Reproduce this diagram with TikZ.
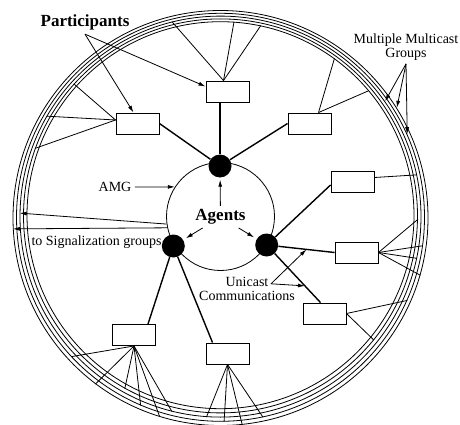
\documentclass[tikz,border=0pt]{standalone}
\usepackage{fontspec}
\setmainfont{Liberation Serif}
\usetikzlibrary{arrows.meta,positioning}

\begin{document}
\begin{tikzpicture}[x=1pt, y=-1pt, >={Latex[length=7pt,width=4pt]},
		  ring/.style={circle, draw, line width=0.8pt, inner sep=0pt},
		  agent/.style={circle, fill=black, inner sep=0pt, minimum size=23pt},
		  participant/.style={draw, line width=0.9pt, minimum width=43pt, minimum height=21pt, inner sep=0pt},
		  link/.style={line width=1.4pt},
		  member/.style={line width=0.8pt},
		  lbl/.style={font=\fontsize{14}{14}\selectfont},
		  bold lbl/.style={font=\fontsize{17}{17}\selectfont\bfseries}]
		  \useasboundingbox (0,0) rectangle (460,425);
		  \foreach \i in {1,...,5}{
		      \node[ring, minimum size={2*(207.5-3.5*(\i-1))}] (r\i) at (220.5, {218-0.7*(\i-1)}) {};
		  }
		  \node[ring, minimum size=108pt] (amg) at (220.5, 216.5) {};
		  \node[agent] (dT) at (220, 166) {};
		  \node[agent] (dL) at (173.3, 246) {};
		  \node[agent] (dR) at (266.7, 245) {};
		  \node[bold lbl, anchor=base] (agents) at (220.5, 220.7) {Agents};
		  \node[participant] (b1) at (227.5, 91.5) {};
		  \node[participant] (b2) at (137.5, 123.5) {};
		  \node[participant] (b3) at (309.5, 123.5) {};
		  \node[participant] (b4) at (352.5, 181.5) {};
		  \node[participant] (b5) at (356.5, 252.5) {};
		  \node[participant] (b6) at (324.5, 313.5) {};
		  \node[participant] (b7) at (134, 335) {};
		  \node[participant] (b8) at (227.5, 353.5) {};
		  \draw[link] (dT) -- (dT |- b1.south);
		  \draw[link] (dT) -- (b2.east);
		  \draw[link] (dT) -- (b3.west);
		  \draw[link] (dR) -- ([yshift=-3.5pt]b4.west);
		  \draw[link] (dR) -- (b5.west) coordinate[pos=0.5] (u1);
		  \draw[link] (dR) -- ([xshift=-4pt]b6.north) coordinate[pos=0.66] (u2);
		  \draw[link] (dL) -- ([xshift=14pt]b7.north);
		  \draw[link] (dL) -- ([xshift=-15pt]b8.north);
		  \foreach \a/\r in {104/3, 86/5, 78/5}
		      \draw[member] ([xshift=-4pt]b1.north) -- (r\r.\a);
		  \foreach \a/\r in {138/4, 150/3, 160/4}
		      \draw[member] ([yshift=3.5pt]b2.west) -- (r\r.\a);
		  \foreach \a/\r in {54/5, 40/5}
		      \draw[member] ([xshift=9pt]b3.north) -- (r\r.\a);
		  \draw[member] ([yshift=4pt]b4.east) -- (r3.12);
		  \foreach \a/\r in {359/4, 352/2, 348/3, 344/1}
		      \draw[member] (b5.east) -- (r\r.\a);
		  \foreach \a/\r in {336/2, 321/4}
		      \draw[member] (b6.east) -- (r\r.\a);
		  \foreach \a/\r in {223/2, 233/1, 241/4, 247/2, 253/1, 256/3}
		      \draw[member] (b7.south) -- (r\r.\a);
		  \foreach \a/\r in {266/3, 271/2, 276/1, 282/2}
		      \draw[member] (b8.south) -- (r\r.\a);
		  \draw[->, member, shorten >=2pt] (agents) -- (dT);
		  \draw[->, member, shorten >=3pt] (agents) -- (dL);
		  \draw[->, member, shorten >=3pt] (agents) -- (dR);
		  \node[bold lbl, anchor=base] (plbl) at (85, 27) {Participants};
		  \draw[->, member] (plbl.south) -- ([yshift=5pt]b1.west);
		  \draw[->, member] (plbl.south) -- ([xshift=-4pt]b2.north);
		  \node[lbl, anchor=base] (amgl) at (115, 191.7) {AMG};
		  \draw[->, member] (amgl) -- (amg.147);
		  \node[lbl, anchor=base] (sig) at (96.5, 245) {to Signalization groups};
		  \draw[->, member] (amg.188) -- (r3.179);
		  \draw[->, member] (amg.192) -- (r1.183);
		  \node[lbl, align=center] (mmg) at (406, 47) {Multiple Multicast\\Groups};
		  \draw[->, member] (mmg.south) -- (r3.35);
		  \draw[->, member] (mmg.south) -- (r1.32);
		  \draw[->, member] (mmg.south) -- (r2.24);
		  \node[lbl, align=center, inner sep=1pt] (ucl) at (247, 289.3) {Unicast\\Communications};
		  \coordinate (ucs) at ([shift={(24,-5.5)}]ucl.center);
		  \draw[->, member] (ucs) -- (u1);
		  \draw[->, member] (ucs) -- (u2);
\end{tikzpicture}
\end{document}
